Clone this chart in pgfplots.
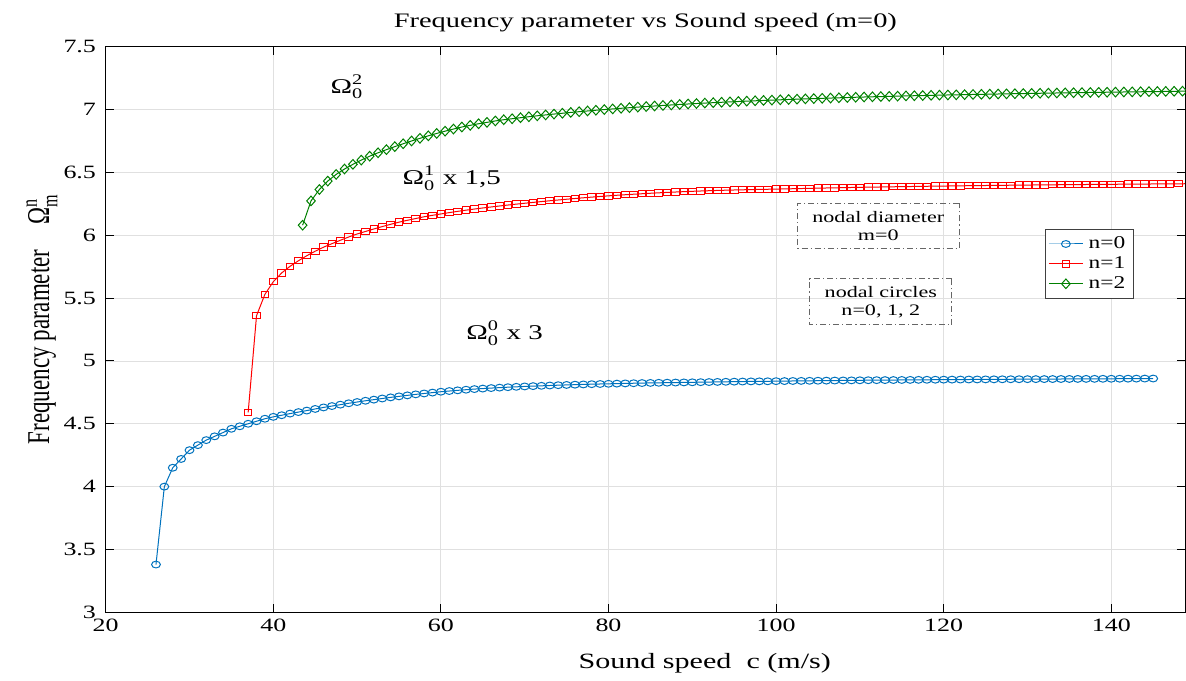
\documentclass[border=0pt]{standalone}
\usepackage{fontspec}
\setmainfont{Liberation Serif}
\usepackage{amsmath}
\usepackage{pgfplots}
\usepackage{pgfplotstable}
\pgfplotsset{compat=1.18}
\definecolor{mblue}{RGB}{0,114,189}
\definecolor{mred}{RGB}{255,0,0}
\definecolor{mgreen}{RGB}{0,128,0}
\newcommand{\Om}[2]{$\text{Ω}^{\text{#1}}_{\text{#2}}$}

\pgfplotstableread{
x y
26 3.38
27 4.00
28 4.15
29 4.22
30 4.29
31 4.33
32 4.37
33 4.40
34 4.43
35 4.46
36 4.48
37 4.50
38 4.52
39 4.54
40 4.555
41 4.568
42 4.581
43 4.593
44 4.605
45 4.618
46 4.630
47 4.641
48 4.652
49 4.663
50 4.673
51 4.683
52 4.692
53 4.701
54 4.710
55 4.718
56 4.726
57 4.734
58 4.741
59 4.748
60 4.755
61 4.7605
62 4.766
63 4.771
64 4.776
65 4.780
66 4.784
67 4.7875
68 4.791
69 4.794
70 4.797
71 4.7995
72 4.802
73 4.8045
74 4.807
75 4.809
76 4.811
77 4.813
78 4.815
79 4.8165
80 4.818
81 4.8195
82 4.821
83 4.8225
84 4.824
85 4.825
86 4.826
87 4.827
88 4.828
89 4.829
90 4.830
91 4.831
92 4.832
93 4.833
94 4.834
95 4.835
96 4.836
97 4.837
98 4.8375
99 4.838
100 4.839
101 4.8397
102 4.8404
103 4.8411
104 4.8418
105 4.8425
106 4.8432
107 4.8439
108 4.8446
109 4.8453
110 4.846
111 4.8465
112 4.847
113 4.8475
114 4.848
115 4.8485
116 4.849
117 4.8495
118 4.850
119 4.8505
120 4.851
121 4.8514
122 4.8518
123 4.8522
124 4.8526
125 4.853
126 4.8534
127 4.8538
128 4.8542
129 4.8546
130 4.855
131 4.8553
132 4.8556
133 4.8559
134 4.8562
135 4.8565
136 4.8568
137 4.8571
138 4.8574
139 4.8577
140 4.858
141 4.8584
142 4.8588
143 4.8592
144 4.8596
145 4.860
}\nzero

\pgfplotstableread{
x y
37 4.59
38 5.36
39 5.53
40 5.63
41 5.70
42 5.753
43 5.797
44 5.837
45 5.873
46 5.905
47 5.933
48 5.960
49 5.986
50 6.010
51 6.030
52 6.050
53 6.069
54 6.087
55 6.104
56 6.119
57 6.133
58 6.147
59 6.1585
60 6.1695
61 6.180
62 6.190
63 6.1995
64 6.2085
65 6.217
66 6.225
67 6.2328
68 6.2403
69 6.2475
70 6.2545
71 6.2613
72 6.2679
73 6.2743
74 6.2805
75 6.2865
76 6.2923
77 6.2979
78 6.3033
79 6.3085
80 6.3135
81 6.318
82 6.3223
83 6.3264
84 6.3303
85 6.334
86 6.3375
87 6.3408
88 6.3439
89 6.3468
90 6.3495
91 6.352
92 6.3543
93 6.3564
94 6.3583
95 6.36
96 6.3616
97 6.3631
98 6.3645
99 6.3658
100 6.367
101 6.3686
102 6.3701
103 6.3716
104 6.3731
105 6.3745
106 6.3759
107 6.3773
108 6.3786
109 6.3799
110 6.3812
111 6.3823
112 6.3834
113 6.3845
114 6.3856
115 6.3866
116 6.3876
117 6.3886
118 6.3896
119 6.3905
120 6.3914
121 6.3923
122 6.3932
123 6.3941
124 6.3949
125 6.3957
126 6.3965
127 6.3972
128 6.3979
129 6.3986
130 6.3993
131 6.4000
132 6.4007
133 6.4013
134 6.4019
135 6.4025
136 6.4031
137 6.4037
138 6.4043
139 6.4048
140 6.4053
141 6.4058
142 6.4063
143 6.4068
144 6.4073
145 6.4078
146 6.4083
147 6.4088
148 6.4093
149 6.4098
}\none

\pgfplotstableread{
x y
43.5 6.08
44.5 6.273
45.5 6.364
46.5 6.431
47.5 6.484
48.5 6.527
49.5 6.564
50.5 6.598
51.5 6.629
52.5 6.656
53.5 6.681
54.5 6.705
55.5 6.728
56.5 6.750
57.5 6.771
58.5 6.791
59.5 6.810
60.5 6.828
61.5 6.845
62.5 6.861
63.5 6.8745
64.5 6.887
65.5 6.898
66.5 6.9095
67.5 6.919
68.5 6.927
69.5 6.935
70.5 6.943
71.5 6.9503
72.5 6.9573
73.5 6.9641
74.5 6.9706
75.5 6.977
76.5 6.983
77.5 6.9888
78.5 6.9945
79.5 6.9999
80.5 7.005
81.5 7.010
82.5 7.0148
83.5 7.0195
84.5 7.0240
85.5 7.0284
86.5 7.0326
87.5 7.0366
88.5 7.0405
89.5 7.0443
90.5 7.048
91.5 7.0514
92.5 7.0547
93.5 7.0579
94.5 7.0610
95.5 7.0640
96.5 7.0669
97.5 7.0697
98.5 7.0724
99.5 7.0750
100.5 7.0776
101.5 7.0801
102.5 7.0825
103.5 7.0849
104.5 7.0872
105.5 7.0894
106.5 7.0915
107.5 7.0936
108.5 7.0957
109.5 7.0978
110.5 7.0998
111.5 7.1016
112.5 7.1033
113.5 7.1050
114.5 7.1067
115.5 7.1084
116.5 7.1100
117.5 7.1115
118.5 7.1130
119.5 7.1145
120.5 7.1160
121.5 7.1173
122.5 7.1186
123.5 7.1199
124.5 7.1212
125.5 7.1225
126.5 7.1237
127.5 7.1249
128.5 7.1261
129.5 7.1273
130.5 7.1285
131.5 7.1296
132.5 7.1307
133.5 7.1318
134.5 7.1328
135.5 7.1338
136.5 7.1348
137.5 7.1358
138.5 7.1368
139.5 7.1378
140.5 7.1388
141.5 7.1397
142.5 7.1406
143.5 7.1415
144.5 7.1424
145.5 7.1433
146.5 7.1442
147.5 7.1451
148.5 7.1460
149.5 7.1469
}\ntwo

\begin{document}
\begin{tikzpicture}
\path[use as bounding box] (0,0) rectangle (593pt,340pt);
\begin{axis}[
  at={(52.85pt,33.85pt)}, anchor=south west,
  scale only axis, width=539.65pt, height=282.8pt,
  xmin=20, xmax=148.8, ymin=3, ymax=7.5,
  xtick={20,40,60,80,100,120,140},
  ytick={3,3.5,4,4.5,5,5.5,6,6.5,7,7.5},
  yticklabels={3,3.5,4,4.5,5,5.5,6,6.5,7,7.5},
  grid=major, major grid style={draw=black!12, line width=0.4pt},
  tick align=inside, major tick length=4pt,
  axis line style={line width=0.5pt},
  tick style={black, line width=0.5pt},
  /pgf/number format/assume math mode=true,
  ticklabel style={font=\fontsize{9.4}{11}\selectfont, xscale=1.38},
  title={Frequency parameter vs Sound speed (m=0)},
  title style={at={(axis description cs:0.5,1)}, anchor=center, yshift=6.3pt,
    font=\fontsize{10.3}{12}\selectfont, xscale=1.38},
  xlabel={Sound speed\ \ c (m/s)},
  xlabel style={at={(axis description cs:0.555,0)}, anchor=center, yshift=-25.35pt,
    font=\fontsize{10.9}{13}\selectfont, xscale=1.38},
  ylabel={Frequency parameter\hspace{1.1em}\Om{n}{m}},
  ylabel style={at={(axis description cs:-0.0591,0.5186)}, anchor=center,
    font=\fontsize{11.5}{13}\selectfont, yscale=1.38},
  legend style={at={(axis description cs:0.9527,0.6777)}, anchor=north east,
    font=\fontsize{9}{10}\selectfont, draw=black!75, line width=0.5pt,
    inner sep=1.5pt, row sep=-1.5pt, nodes={xscale=1.3}},
  legend cell align=left,
]
\addplot[color=mblue, line width=0.5pt, mark=o, mark size=1.7pt,
  mark options={xscale=1.3, line width=0.5pt, solid}] table[x=x,y=y] {\nzero};
\addlegendentry{n=0}
\addplot[color=mred, line width=0.5pt, mark=square, mark size=1.6pt,
  mark options={xscale=1.2, line width=0.5pt, solid}] table[x=x,y=y] {\none};
\addlegendentry{n=1}
\addplot[color=mgreen, line width=0.5pt, mark=diamond, mark size=2.4pt,
  mark options={xscale=1.2, line width=0.5pt, solid}] table[x=x,y=y] {\ntwo};
\addlegendentry{n=2}

\node[font=\fontsize{10.5}{12}\selectfont, xscale=1.38] at (axis cs:48.8,7.18) {\Om{2}{0}};
\node[font=\fontsize{10.5}{12}\selectfont, xscale=1.38] at (axis cs:61.3,6.455) {\Om{1}{0} x 1,5};
\node[font=\fontsize{10.5}{12}\selectfont, xscale=1.38] at (axis cs:67.6,5.222) {\Om{0}{0} x 3};

\node[draw=black!60, line width=0.5pt, dash pattern=on 3pt off 1.5pt on 0.6pt off 1.5pt,
  align=center, font=\fontsize{8}{9.2}\selectfont, xscale=1.38,
  minimum width=58.7pt, minimum height=22.5pt, inner sep=1pt]
  at (axis cs:112.2,6.074) {nodal diameter\\m=0};
\node[draw=black!60, line width=0.5pt, dash pattern=on 3pt off 1.5pt on 0.6pt off 1.5pt,
  align=center, font=\fontsize{8}{9.2}\selectfont, xscale=1.38,
  minimum width=51.4pt, minimum height=23pt, inner sep=1pt]
  at (axis cs:112.5,5.469) {nodal circles\\n=0, 1, 2};
\end{axis}
\end{tikzpicture}
\end{document}
